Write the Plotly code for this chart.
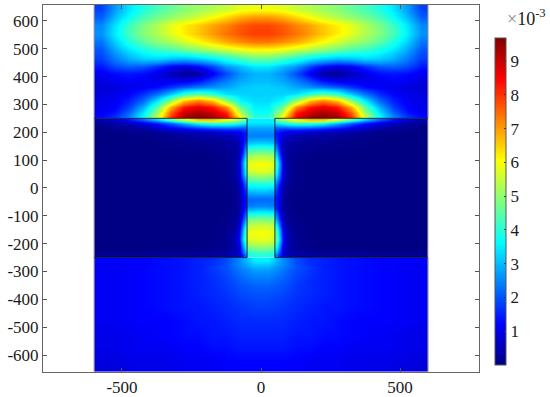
import plotly.graph_objects as go

# right-half cell values are mirrored to the left (the field is symmetric)
top_x_edges = [0, 50, 100, 150, 200, 250, 300, 350, 400, 450, 500, 550, 600]
top_y_edges = [250, 262, 280, 300, 325, 350, 375, 400, 425, 450, 480, 510, 540, 570, 600, 630, 659]
top_z = [
    [4.0, 6.0, 8.6, 9.3, 9.6, 9.3, 8.0, 5.5, 3.7, 2.5, 1.7, 1.3],
    [3.7, 5.4, 8.2, 9.0, 9.3, 9.0, 7.6, 5.1, 3.4, 2.2, 1.4, 1.1],
    [3.5, 4.6, 7.2, 8.3, 8.7, 8.3, 6.8, 4.5, 2.9, 1.8, 1.2, 1.0],
    [3.3, 3.6, 5.0, 6.6, 7.2, 6.6, 5.0, 3.4, 2.2, 1.5, 1.1, 1.0],
    [3.2, 3.2, 3.3, 3.9, 4.3, 3.9, 3.0, 2.2, 1.6, 1.2, 1.0, 0.9],
    [3.2, 3.1, 2.8, 2.6, 2.4, 2.1, 1.7, 1.3, 1.1, 1.0, 0.9, 0.8],
    [3.0, 2.8, 2.4, 1.9, 1.3, 1.0, 1.0, 1.0, 1.1, 1.2, 1.1, 0.9],
    [2.9, 2.6, 1.9, 1.1, 0.3, 0.2, 0.6, 1.0, 1.3, 1.4, 1.3, 1.1],
    [3.4, 3.0, 2.6, 1.8, 1.2, 0.9, 1.1, 1.6, 2.0, 2.1, 1.9, 1.4],
    [4.6, 4.3, 3.9, 3.5, 3.2, 3.0, 3.1, 3.3, 3.2, 2.9, 2.4, 1.8],
    [6.0, 5.8, 5.5, 5.2, 4.9, 4.6, 4.3, 4.1, 3.8, 3.4, 2.8, 2.0],
    [7.3, 7.1, 6.8, 6.4, 6.0, 5.6, 5.2, 4.9, 4.5, 3.9, 3.2, 2.3],
    [7.9, 7.7, 7.4, 7.0, 6.6, 6.2, 5.8, 5.3, 4.9, 4.3, 3.5, 2.6],
    [7.8, 7.6, 7.2, 6.9, 6.5, 6.2, 5.8, 5.3, 4.8, 4.2, 3.4, 2.5],
    [7.0, 6.8, 6.4, 6.0, 5.6, 5.3, 5.0, 4.7, 4.3, 3.7, 3.0, 2.1],
    [5.9, 5.8, 5.5, 5.3, 5.1, 4.9, 4.6, 4.3, 3.9, 3.4, 2.7, 1.8],
]

slit_x_edges = [0, 25, 50]
slit_y_edges = [-250, -225, -200, -175, -150, -125, -100, -75, -50, -25, 0, 25, 50, 75, 100, 125, 150, 175, 200, 225, 250]
slit_z = [
    [4.0, 3.9], [5.0, 4.9], [5.8, 5.7], [6.0, 5.9], [5.6, 5.5], [4.8, 4.7],
    [3.6, 3.5], [2.5, 2.4], [2.2, 2.2], [3.0, 2.9], [3.8, 3.7], [4.8, 4.7],
    [5.8, 5.6], [6.0, 5.9], [5.4, 5.3], [4.4, 4.3], [3.2, 3.1], [2.4, 2.4],
    [2.7, 2.7], [3.5, 3.5],
]

side_x_edges = [50, 60, 70, 80, 95, 150, 200, 250, 300, 350, 400, 450, 500, 550, 600]
side_y_edges = [-250, -230, -200, -170, -130, -90, -50, -10, 30, 70, 110, 150, 190, 210, 225, 238, 250]
side_z = [
    [2.4, 1.5, 1.0, 0.7, 0.4, 0.3, 0.3, 0.25, 0.25, 0.25, 0.2, 0.2, 0.2, 0.2],
    [3.6, 2.4, 1.2, 0.6, 0.2, 0.1, 0.05, 0.05, 0.05, 0.05, 0.05, 0.05, 0.05, 0.05],
    [4.6, 3.2, 1.8, 0.8, 0.2, 0.05, 0.05, 0.05, 0.05, 0.05, 0.05, 0.05, 0.05, 0.05],
    [4.3, 2.8, 1.4, 0.6, 0.15, 0.05, 0.05, 0.05, 0.05, 0.05, 0.05, 0.05, 0.05, 0.05],
    [2.8, 1.6, 0.8, 0.3, 0.1, 0.05, 0.05, 0.05, 0.05, 0.05, 0.05, 0.05, 0.05, 0.05],
    [1.5, 0.9, 0.5, 0.2, 0.05, 0.05, 0.05, 0.05, 0.05, 0.05, 0.05, 0.05, 0.05, 0.05],
    [1.4, 0.9, 0.5, 0.2, 0.05, 0.05, 0.05, 0.05, 0.05, 0.05, 0.05, 0.05, 0.05, 0.05],
    [2.2, 1.3, 0.7, 0.3, 0.1, 0.05, 0.05, 0.05, 0.05, 0.05, 0.05, 0.05, 0.05, 0.05],
    [3.6, 2.3, 1.2, 0.5, 0.1, 0.05, 0.05, 0.05, 0.05, 0.05, 0.05, 0.05, 0.05, 0.05],
    [4.2, 2.6, 1.3, 0.5, 0.1, 0.05, 0.05, 0.05, 0.05, 0.05, 0.05, 0.05, 0.05, 0.05],
    [3.0, 1.5, 0.8, 0.3, 0.2, 0.1, 0.05, 0.05, 0.05, 0.05, 0.05, 0.05, 0.05, 0.05],
    [1.6, 1.1, 0.7, 0.5, 0.3, 0.2, 0.2, 0.15, 0.1, 0.1, 0.05, 0.05, 0.05, 0.05],
    [1.4, 1.3, 1.1, 1.0, 0.8, 0.6, 0.5, 0.4, 0.3, 0.2, 0.1, 0.1, 0.05, 0.05],
    [2.2, 2.2, 2.2, 2.2, 2.4, 2.3, 2.0, 1.6, 1.2, 0.8, 0.5, 0.3, 0.2, 0.1],
    [3.4, 3.5, 3.6, 3.8, 4.0, 4.0, 3.6, 2.8, 2.0, 1.4, 0.9, 0.5, 0.3, 0.2],
    [4.8, 5.0, 5.2, 5.4, 6.2, 6.8, 6.8, 5.8, 4.6, 3.2, 2.2, 1.4, 0.9, 0.5],
]

bottom_x_edges = [0, 50, 100, 150, 200, 250, 300, 400, 500, 600]
bottom_y_edges = [-659, -600, -550, -500, -450, -400, -350, -320, -290, -270, -250]
bottom_z = [
    [1.2, 1.2, 1.2, 1.1, 1.1, 1.1, 1.0, 1.0, 0.9],
    [1.4, 1.4, 1.3, 1.3, 1.2, 1.2, 1.1, 1.1, 1.0],
    [1.5, 1.5, 1.4, 1.4, 1.3, 1.3, 1.2, 1.1, 1.0],
    [1.6, 1.6, 1.5, 1.4, 1.4, 1.3, 1.2, 1.2, 1.1],
    [1.8, 1.7, 1.6, 1.5, 1.4, 1.4, 1.3, 1.2, 1.1],
    [2.0, 1.9, 1.7, 1.6, 1.5, 1.4, 1.3, 1.2, 1.1],
    [2.3, 2.1, 1.8, 1.6, 1.5, 1.4, 1.3, 1.2, 1.1],
    [2.6, 2.3, 1.9, 1.7, 1.5, 1.4, 1.3, 1.2, 1.1],
    [3.0, 2.5, 2.0, 1.7, 1.5, 1.4, 1.3, 1.2, 1.1],
    [3.5, 2.6, 1.9, 1.6, 1.5, 1.4, 1.3, 1.2, 1.2],
]

outline_x = [-600, -50, -50, -600, None, 600, 50, 50, 600]
outline_y = [250, 250, -250, -250, None, 250, 250, -250, -250]
edge_x = [-600, -600, None, 600, 600]
edge_y = [-659, 659, None, -659, 659]

x_ticks = [-500, 0, 500]
y_ticks = [-600, -500, -400, -300, -200, -100, 0, 100, 200, 300, 400, 500, 600]
cbar_ticks = [1, 2, 3, 4, 5, 6, 7, 8, 9]

FONT = "Liberation Serif"
jet = [[0, "rgb(0,0,128)"], [0.125, "rgb(0,0,255)"], [0.375, "rgb(0,255,255)"],
       [0.625, "rgb(255,255,0)"], [0.875, "rgb(255,0,0)"], [1, "rgb(128,0,0)"]]


def mirror(edges):
    return [-e for e in reversed(edges[1:])] + edges


def mirror_rows(rows):
    return [list(reversed(r)) + r for r in rows]


fig = go.Figure()
for xe, ye, z in [(mirror(top_x_edges), top_y_edges, mirror_rows(top_z)),
                  (mirror(slit_x_edges), slit_y_edges, mirror_rows(slit_z)),
                  (mirror(bottom_x_edges), bottom_y_edges, mirror_rows(bottom_z))]:
    fig.add_trace(go.Heatmap(x=xe, y=ye, z=z, zsmooth="best", coloraxis="coloraxis"))
# the two dark blocks either side of the slit
fig.add_trace(go.Heatmap(x=side_x_edges, y=side_y_edges, z=side_z, zsmooth="best", coloraxis="coloraxis"))
fig.add_trace(go.Heatmap(x=[-e for e in reversed(side_x_edges)], y=side_y_edges,
                         z=[list(reversed(r)) for r in side_z], zsmooth="best", coloraxis="coloraxis"))
fig.add_trace(go.Scatter(x=edge_x, y=edge_y, mode="lines", showlegend=False, hoverinfo="skip",
                         line=dict(color="#8a8a8a", width=1)))
fig.add_trace(go.Scatter(x=outline_x, y=outline_y, mode="lines", showlegend=False,
                         hoverinfo="skip", line=dict(color="rgba(10,20,30,0.85)", width=1)))

axis_common = dict(showgrid=False, zeroline=False, showline=True, mirror="ticks", linecolor="#666666",
                   linewidth=1, ticks="inside", ticklen=4, tickcolor="#555555", automargin=False,
                   tickfont=dict(family=FONT, size=17, color="#1a1a1a"))
fig.update_layout(
    width=550, height=397, margin=dict(l=43, r=71, t=5, b=25, autoexpand=False),
    paper_bgcolor="white", plot_bgcolor="white", showlegend=False,
    xaxis=dict(range=[-784, 784], tickvals=x_ticks, ticktext=[str(v) for v in x_ticks], **axis_common),
    yaxis=dict(range=[-661, 657], tickvals=y_ticks, ticktext=[str(v) for v in y_ticks], **axis_common),
    coloraxis=dict(cmin=0, cmax=9.68, colorscale=jet, colorbar=dict(
        thicknessmode="pixels", thickness=11, lenmode="pixels", len=327,
        x=1.0367, xanchor="left", y=0.4645, yanchor="middle", xpad=0, ypad=0,
        outlinewidth=1, outlinecolor="#555555", tickvals=cbar_ticks, ticks="inside", ticklen=2,
        tickprefix="\u2009", tickcolor="#333333", tickfont=dict(family=FONT, size=17, color="#1a1a1a"))),
    annotations=[dict(xref="paper", yref="paper", x=1.06, y=0.93, xanchor="left", yanchor="bottom",
                      showarrow=False, align="left", font=dict(family=FONT, size=18, color="#1a1a1a"),
                      text="<span style='color:#888888'>×</span>10<sup>-3</sup>")],
)
fig.write_html("out.html", config=dict(displayModeBar=False),
               post_script="document.body.style.margin='0';")
